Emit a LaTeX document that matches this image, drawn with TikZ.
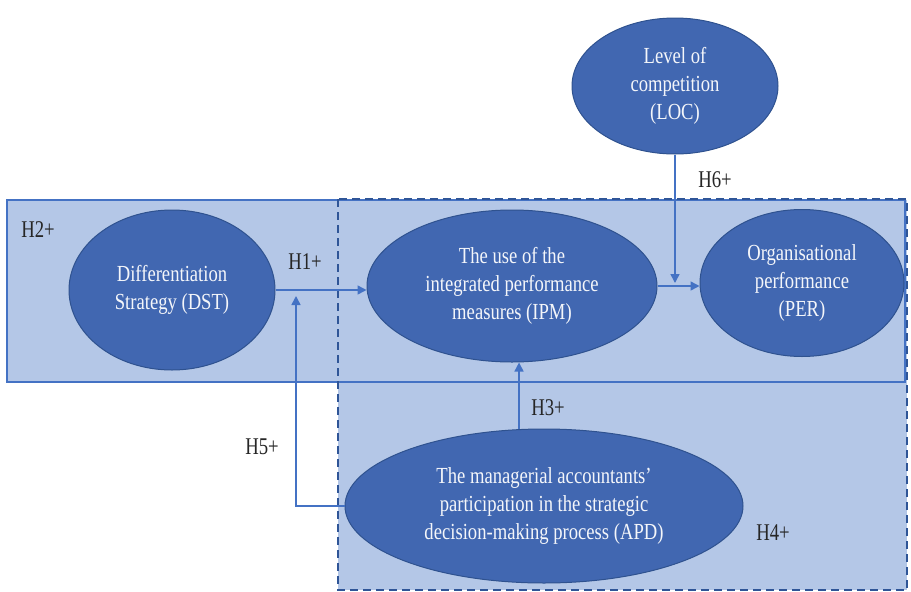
\documentclass[tikz,border=0pt]{standalone}
\usepackage{fontspec}
\setmainfont{Liberation Serif}[FakeStretch=0.81]
\newfontfamily\labfont{Liberation Serif}[FakeStretch=0.78]
\usetikzlibrary{shapes.geometric,arrows.meta}
\definecolor{boxfill}{HTML}{B4C7E7}
\definecolor{ellfill}{HTML}{4167B1}
\definecolor{ellline}{HTML}{2F528F}
\definecolor{conn}{HTML}{4472C4}
\definecolor{dashc}{HTML}{2F5597}
\begin{document}
\begin{tikzpicture}[x=1pt,y=-1pt,
 var/.style={ellipse, draw=ellline, line width=1pt, fill=ellfill, text=white!94!ellfill, align=center, inner sep=0pt, font=\fontsize{23}{28}\selectfont},
 lab/.style={text=black!85, font=\labfont\fontsize{24}{28}\selectfont, inner sep=0pt},
 link/.style={draw=conn, line width=1.5pt, -{Triangle[length=9pt,width=9pt]}},
]
\useasboundingbox (0,0) rectangle (911,592);
\fill[boxfill] (7,200) rectangle (905,382);
\fill[boxfill] (338,200) rectangle (907,590);
\draw[conn, line width=2pt] (7,200) rectangle (905,382);
\draw[dashc, line width=2pt, dash pattern=on 8pt off 5pt] (338,199) rectangle (907,590);

\node[var, minimum width=206, minimum height=160] (dst) at (172,290) {Differentiation\\Strategy (DST)};
\node[var, minimum width=290, minimum height=152] (ipm) at (512,286) {The use of the\\integrated performance\\measures (IPM)};
\node[var, minimum width=204, minimum height=147] (per) at (802,283) {Organisational\\performance\\(PER)};
\node[var, minimum width=206, minimum height=136] (loc) at (675,86) {Level of\\competition\\(LOC)};
\node[var, minimum width=398, minimum height=154] (apd) at (544,506) {The managerial accountants’\\participation in the strategic\\decision-making process (APD)};

\coordinate (h5tip) at (296,296);
\coordinate (h6tip) at (675,283);

\draw[link] (dst.east) -- (dst.east -| ipm.west);
\draw[link] (ipm.east) -- (ipm.east -| per.west);
\draw[link] (loc.south) -- (h6tip);
\draw[link] (apd.108) -- (apd.108 |- ipm.south);
\draw[link] (apd.west) -| (h5tip);

\node[lab] (h1) at (305,262) {H1+};
\node[lab] (h2) at (38,230) {H2+};
\node[lab] (h3) at (548,408) {H3+};
\node[lab] (h4) at (773,533) {H4+};
\node[lab] (h5) at (262,447) {H5+};
\node[lab] (h6) at (715,180) {H6+};
\end{tikzpicture}
\end{document}
